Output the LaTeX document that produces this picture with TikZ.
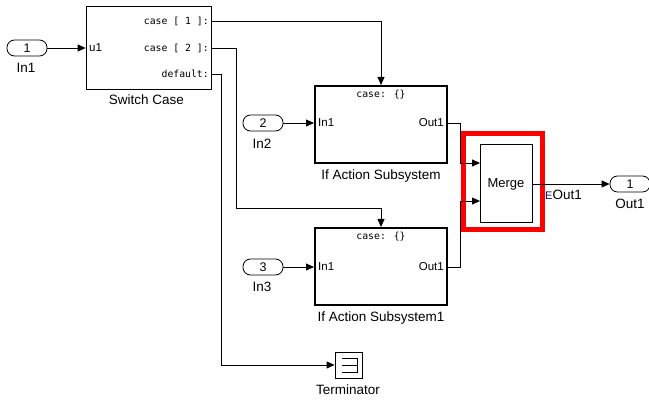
\documentclass[tikz,border=0pt]{standalone}
\usepackage{fontspec}
\setmainfont{Liberation Sans}
\newfontfamily\monof{DejaVu Sans Mono}
\usetikzlibrary{arrows.meta}
\begin{document}
\begin{tikzpicture}[x=1pt,y=-1pt,
  font=\fontsize{13}{14}\selectfont,
  port/.style={draw,line width=0.8pt,rounded corners=7.5pt,minimum width=40pt,minimum height=16pt,inner sep=0pt,font=\fontsize{12.5}{13}\selectfont},
  blk/.style={draw,line width=0.8pt,inner sep=0pt},
  sub/.style={draw,line width=2pt,minimum width=132pt,minimum height=77pt,inner sep=0pt},
  lbl/.style={inner sep=0pt,font=\fontsize{13.5}{14}\selectfont},
  mono/.style={inner sep=0pt,font=\monof\fontsize{9.8}{11}\selectfont},
  small/.style={inner sep=0pt,font=\fontsize{11.5}{12}\selectfont},
  wire/.style={line width=0.8pt},
  arr/.style={wire,-{Triangle[length=8pt,width=7pt]}}]
\useasboundingbox[fill=white] (0,0) rectangle (649,406);

% Switch Case
\node[blk,minimum width=125pt,minimum height=83pt] (sw) at (148.5,47.5) {};
\node[lbl] (swl) at (146.5,100) {Switch Case};
\node[small,anchor=west] (u1) at (89,48) {u1};
\node[mono,anchor=east] (c1) at (209,21) {case [ 1 ]:};
\node[mono,anchor=east] (c2) at (209,48) {case [ 2 ]:};
\node[mono,anchor=east] (cd) at (209,74) {default:};

% In1
\node[port] (in1) at (27,48) {1};
\node[lbl] (in1l) at (26,68) {In1};

% If Action Subsystem
\node[sub] (s1) at (381,124.5) {};
\node[mono] (s1c) at (381,95) {case: \{\}};
\node[small,anchor=west] (s1i) at (318,123) {In1};
\node[small,anchor=east] (s1o) at (444,123) {Out1};
\node[lbl] (s1l) at (381,176) {If Action Subsystem};
\node[port] (in2) at (263,123) {2};
\node[lbl] (in2l) at (262,144) {In2};

% If Action Subsystem1
\node[sub] (s2) at (381,266.5) {};
\node[mono] (s2c) at (381,237) {case: \{\}};
\node[small,anchor=west] (s2i) at (318,267) {In1};
\node[small,anchor=east] (s2o) at (444,267) {Out1};
\node[lbl] (s2l) at (381,318) {If Action Subsystem1};
\node[port] (in3) at (263,267) {3};
\node[lbl] (in3l) at (262,287) {In3};

% Merge
\node[blk,minimum width=52pt,minimum height=78pt] (mg) at (506,183) {};
\node[lbl,font=\fontsize{13}{14}\selectfont] (mgl) at (506,184) {Merge};
\draw[red,line width=5pt] (463.5,133.5) rectangle (542.5,229.5);
\coordinate (m1) at (480,163);
\coordinate (m2) at (480,201);

% Out1
\node[port] (out1) at (630,184) {1};
\node[lbl] (out1l) at (630,204) {Out1};
\node[lbl,anchor=west] (eo) at (545,195) {\textcolor{blue!55!black}{\fontsize{11}{12}\selectfont E}Out1};

% Terminator
\node[blk,minimum width=27pt,minimum height=26pt] (term) at (348.5,365) {};
\draw[line width=0.8pt] (342,358) -- (357,358) -- (357,372.5) -- (342,372.5) (342,365.5) -- (357,365.5);
\node[lbl] (terml) at (348,390) {Terminator};

% wires
\draw[arr] (in1.east) -- (sw.west |- in1);
\draw[arr] (sw.east |- c1) -| (s1.north);
\draw[arr] (sw.east |- c2) -- (236,48) -- (236,208) -| (s2.north);
\draw[arr] (sw.east |- cd) -- (221,74) |- (term.west);
\draw[arr] (in2.east) -- (s1.west |- in2);
\draw[arr] (in3.east) -- (s2.west |- in3);
\draw[arr] (s1.east |- s1o) -- (460,123) |- (m1);
\draw[arr] (s2.east |- s2o) -- (460,267) |- (m2);
\draw[arr] (mg.east |- out1) -- (out1.west);
\end{tikzpicture}
\end{document}
